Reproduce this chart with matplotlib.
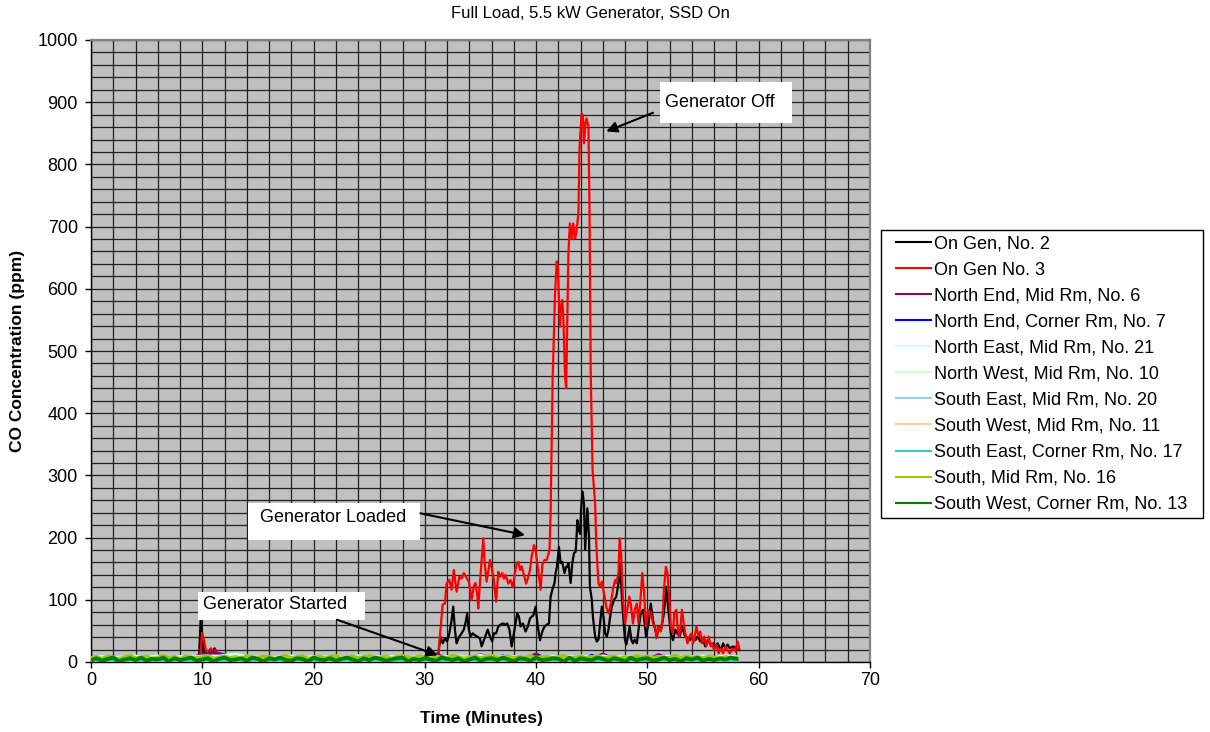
import numpy as np
import matplotlib
matplotlib.use('Agg')
import matplotlib.pyplot as plt
from matplotlib.ticker import MultipleLocator
from matplotlib.patches import Rectangle

plt.rcParams['font.family'] = ['Liberation Sans', 'DejaVu Sans']

title = "Full Load, 5.5 kW Generator, SSD On"
xlabel = "Time (Minutes)"
ylabel = "CO Concentration (ppm)"

series_names = ["On Gen, No. 2", "On Gen No. 3", "North End, Mid Rm, No. 6",
                "North End, Corner Rm, No. 7", "North East, Mid Rm, No. 21",
                "North West, Mid Rm, No. 10", "South East, Mid Rm, No. 20",
                "South West, Mid Rm, No. 11", "South East, Corner Rm, No. 17",
                "South, Mid Rm, No. 16", "South West, Corner Rm, No. 13"]
series_colors = ["#000000", "#FF0000", "#800080", "#0000FF", "#CCFFFF", "#CCFFCC",
                 "#99CCFF", "#FFCC99", "#33CCCC", "#99CC00", "#008000"]

# ---- On Gen, No. 2 (black)
t_gen2 = [0, 1.5, 3, 4.5, 6, 7.5, 9, 9.7, 9.85, 10.0,
          10.2, 10.5, 10.7, 10.9, 11.1, 11.3, 11.6, 13, 15, 17,
          19, 21, 23, 25, 27, 29, 30.5, 31.0, 31.2, 31.4,
          31.6, 31.8, 32.0, 32.2, 32.4, 32.55, 32.7, 32.85, 33.1, 33.3,
          33.5, 33.7, 33.8, 33.95, 34.1, 34.3, 34.5, 34.7, 34.95, 35.1,
          35.3, 35.45, 35.65, 35.85, 36.05, 36.2, 36.4, 36.6, 36.8, 37.0,
          37.25, 37.4, 37.6, 37.8, 38.0, 38.3, 38.45, 38.6, 38.8, 39.05,
          39.25, 39.45, 39.6, 39.75, 39.95, 40.15, 40.35, 40.55, 40.75, 40.95,
          41.15, 41.3, 41.45, 41.65, 41.75, 41.87, 42.05, 42.2, 42.35, 42.55,
          42.7, 42.8, 42.9, 43.1, 43.25, 43.4, 43.55, 43.63, 43.7, 43.85,
          43.95, 44.05, 44.17, 44.3, 44.4, 44.55, 44.6, 44.75, 44.83, 45.0,
          45.1, 45.3, 45.45, 45.6, 45.75, 45.9, 46.05, 46.2, 46.35, 46.5,
          46.65, 46.8, 47.0, 47.2, 47.4, 47.5, 47.65, 47.8, 47.98, 48.1,
          48.25, 48.4, 48.55, 48.7, 48.85, 49.05, 49.2, 49.4, 49.6, 49.75,
          49.87, 50.1, 50.3, 50.5, 50.7, 50.86, 51.0, 51.25, 51.48, 51.7,
          51.85, 52.1, 52.3, 52.5, 52.7, 52.9, 53.1, 53.35, 53.6, 53.8,
          54.0, 54.3, 54.5, 54.75, 55.0, 55.2, 55.4, 55.7, 55.9, 56.1,
          56.3, 56.6, 56.8, 57.0, 57.2, 57.4, 57.7, 58.0, 58.25]
gen2 = [2, 3, 1, 2, 3, 2, 3, 5, 67, 35,
        10, 8, 20, 12, 22, 10, 4, 2, 3, 2,
        3, 2, 2, 3, 2, 3, 3, 5, 11, 41,
        30, 38, 33, 46, 67, 89, 52, 30, 41, 46,
        52, 67, 78, 52, 41, 46, 43, 41, 38, 25,
        35, 43, 52, 41, 33, 46, 46, 57, 60, 62,
        60, 62, 52, 25, 46, 78, 73, 57, 62, 49,
        57, 70, 73, 75, 89, 57, 35, 49, 57, 60,
        62, 105, 116, 127, 143, 153, 185, 159, 161, 143,
        153, 153, 159, 127, 159, 175, 177, 201, 228, 212,
        206, 249, 274, 254, 180, 228, 247, 201, 121, 100,
        73, 41, 33, 36, 62, 89, 73, 46, 41, 52,
        73, 89, 100, 105, 127, 159, 121, 78, 36, 28,
        41, 57, 36, 30, 36, 30, 52, 78, 84, 62,
        41, 62, 94, 67, 52, 41, 57, 54, 78, 121,
        89, 46, 35, 52, 46, 41, 57, 43, 38, 35,
        41, 35, 41, 33, 35, 25, 35, 28, 30, 25,
        30, 19, 30, 22, 28, 22, 25, 22, 19]

# ---- On Gen No. 3 (red)
t_gen3 = [0, 1.5, 3, 4.5, 6, 7.5, 9, 9.8, 9.9, 10.0,
          10.2, 10.4, 10.6, 10.8, 11.0, 11.2, 11.4, 11.7, 13, 15,
          17, 19, 21, 23, 25, 27, 29, 30.5, 31.0, 31.2,
          31.6, 31.8, 31.95, 32.2, 32.4, 32.6, 32.85, 33.1, 33.3, 33.5,
          33.7, 33.96, 34.2, 34.4, 34.55, 34.7, 34.8, 34.97, 35.1, 35.25,
          35.4, 35.55, 35.85, 36.0, 36.2, 36.4, 36.6, 36.75, 36.95, 37.1,
          37.25, 37.5, 37.7, 37.9, 38.1, 38.25, 38.4, 38.55, 38.7, 38.9,
          39.1, 39.25, 39.45, 39.6, 39.8, 39.95, 40.15, 40.4, 40.55, 40.75,
          40.95, 41.2, 41.3, 41.48, 41.7, 41.85, 41.95, 42.14, 42.2, 42.35,
          42.45, 42.6, 42.7, 42.9, 43.03, 43.2, 43.33, 43.5, 43.6, 43.8,
          43.9, 44.09, 44.2, 44.3, 44.43, 44.53, 44.7, 44.8, 44.9, 45.07,
          45.3, 45.4, 45.6, 45.75, 45.9, 46.2, 46.3, 46.5, 46.7, 46.9,
          47.1, 47.2, 47.4, 47.5, 47.65, 47.8, 47.98, 48.2, 48.37, 48.5,
          48.7, 48.87, 49.05, 49.2, 49.35, 49.54, 49.7, 49.87, 50.1, 50.3,
          50.5, 50.7, 50.8, 51.0, 51.2, 51.35, 51.48, 51.66, 51.8, 51.95,
          52.1, 52.3, 52.4, 52.6, 52.7, 52.85, 53.0, 53.1, 53.3, 53.4,
          53.6, 53.77, 53.96, 54.1, 54.3, 54.4, 54.6, 54.75, 54.9, 55.1,
          55.3, 55.5, 55.7, 55.8, 56.0, 56.2, 56.4, 56.6, 56.8, 57.0,
          57.2, 57.4, 57.7, 57.9, 58.1, 58.25]
gen3 = [2, 3, 2, 2, 3, 2, 3, 5, 30, 47,
        30, 12, 15, 22, 12, 20, 8, 4, 3, 2,
        3, 2, 3, 2, 3, 2, 3, 3, 5, 11,
        92, 94, 126, 132, 116, 148, 113, 137, 134, 143,
        137, 129, 100, 122, 127, 109, 86, 132, 164, 199,
        154, 129, 164, 151, 132, 97, 145, 137, 143, 134,
        140, 126, 132, 120, 143, 159, 161, 148, 154, 140,
        126, 134, 148, 170, 188, 180, 151, 116, 156, 164,
        164, 180, 239, 453, 593, 644, 635, 539, 565, 582,
        550, 458, 440, 657, 705, 680, 705, 681, 689, 721,
        828, 882, 877, 834, 866, 874, 861, 721, 470, 309,
        255, 191, 126, 121, 129, 100, 89, 78, 94, 116,
        132, 127, 143, 199, 169, 100, 62, 85, 105, 94,
        62, 85, 94, 62, 94, 143, 111, 57, 84, 78,
        62, 57, 38, 57, 49, 67, 116, 153, 143, 105,
        57, 46, 78, 84, 57, 41, 62, 84, 57, 46,
        30, 41, 46, 30, 46, 57, 41, 49, 30, 41,
        25, 41, 25, 30, 19, 28, 14, 22, 14, 25,
        19, 14, 22, 17, 33, 22]

# ---- room sensors (background band near zero)
t_half = np.arange(0, 58.5, 0.5)   # sampling every half minute
t_one = np.arange(0, 59, 1)        # sampling every minute

rm13 = [3, 6, 2, 5, 7, 1, 4, 6, 3, 7,
        2, 5, 4, 7, 1, 6, 3, 5, 7, 2,
        4, 6, 1, 5, 7, 3, 4, 6, 2, 7,
        5, 1, 6, 4, 7, 3, 2, 6, 5, 1,
        7, 4, 3, 6, 2, 5, 7, 4, 1, 6,
        3, 7, 5, 2, 4, 6, 7, 1, 5, 3,
        6, 4, 2, 7, 5, 3, 6, 1, 4, 7,
        2, 5, 6, 3, 7, 4, 1, 6, 5, 2,
        7, 3, 4, 6, 5, 1, 7, 2, 6, 4,
        3, 7, 5, 2, 6, 4, 1, 7, 3, 5,
        6, 2, 4, 7, 3, 5, 1, 6, 4, 7,
        2, 5, 3, 6, 4, 7, 5]
rm16 = [6, 8, 5, 9, 7, 4, 8, 10, 6, 7,
        9, 5, 7, 10, 6, 8, 4, 9, 7, 6,
        8, 10, 5, 7, 9, 6, 8, 4, 10, 7,
        6, 9, 8, 5, 7, 10, 6, 8, 9, 5,
        7, 9, 6, 8, 10, 5, 7, 9, 6, 8,
        10, 6, 7, 9, 5, 8, 10, 7, 6, 9,
        8, 5, 9, 7, 6, 10, 8, 5, 7, 9,
        6, 8, 10, 7, 5, 9, 6, 8, 7, 10,
        5, 7, 9, 6, 8, 10, 5, 7, 9, 6,
        8, 10, 6, 7, 9, 5, 8, 6, 10, 7,
        9, 6, 8, 5, 7, 10, 6, 9, 7, 8,
        6, 9, 7, 5, 8, 6, 7]
rm6 = [4, 5, 3, 6, 4, 5, 3, 4, 6, 5,
       12, 15, 11, 6, 4, 5, 3, 6, 4, 5,
       7, 4, 5, 3, 6, 4, 5, 4, 6, 5,
       3, 12, 5, 4, 6, 11, 5, 4, 3, 6,
       12, 4, 5, 6, 3, 5, 12, 4, 6, 5,
       3, 11, 4, 5, 6, 4, 5, 3, 4]
rm7 = [2, 3, 1, 2, 4, 2, 3, 1, 2, 3,
       4, 8, 3, 2, 1, 3, 2, 4, 2, 1,
       3, 2, 4, 1, 2, 3, 2, 1, 9, 2,
       3, 1, 2, 4, 3, 2, 1, 9, 2, 3,
       2, 4, 1, 3, 2, 10, 3, 2, 4, 1,
       2, 3, 1, 2, 4, 2, 3, 1, 2]
rm21 = [6, 8, 5, 7, 9, 6, 7, 5, 8, 6,
        9, 7, 10, 12, 8, 6, 5, 7, 9, 6,
        8, 5, 7, 6, 9, 7, 5, 8, 6, 7,
        9, 6, 8, 5, 7, 10, 6, 8, 5, 7,
        6, 9, 7, 8, 5, 7, 9, 6, 8, 5,
        7, 6, 9, 5, 8, 7, 6, 9, 7]
rm10 = [5, 7, 6, 8, 5, 7, 9, 6, 5, 8,
        7, 9, 8, 10, 6, 7, 5, 8, 6, 7,
        6, 8, 5, 7, 9, 6, 8, 7, 5, 6,
        8, 7, 5, 9, 6, 8, 7, 5, 8, 6,
        7, 5, 8, 6, 9, 7, 5, 8, 6, 9,
        5, 8, 6, 7, 5, 9, 6, 7, 8]
rm20 = [3, 4, 2, 5, 3, 4, 6, 3, 4, 2,
        5, 6, 4, 7, 3, 4, 5, 3, 2, 4,
        3, 5, 4, 2, 6, 3, 4, 5, 3, 4,
        2, 4, 5, 3, 6, 4, 3, 5, 2, 4,
        5, 3, 4, 6, 3, 5, 4, 2, 5, 3,
        4, 6, 3, 5, 4, 3, 5, 4, 3]
rm11 = [4, 3, 5, 4, 2, 5, 3, 4, 6, 3,
        5, 4, 6, 5, 3, 4, 5, 2, 4, 5,
        3, 4, 2, 5, 3, 6, 4, 3, 5, 4,
        5, 3, 4, 6, 2, 4, 5, 3, 4, 6,
        3, 5, 4, 2, 5, 3, 4, 6, 3, 5,
        4, 2, 5, 3, 4, 5, 3, 4, 2]
rm17 = [1, 2, 0, 1, 2, 1, 0, 2, 1, 1,
        2, 1, 3, 1, 0, 2, 1, 2, 0, 1,
        1, 2, 1, 0, 2, 1, 3, 1, 2, 0,
        1, 2, 0, 1, 3, 1, 2, 0, 1, 2,
        0, 1, 2, 1, 0, 2, 1, 3, 1, 2,
        1, 0, 2, 1, 2, 0, 1, 3, 2]

xticks = list(range(0, 71, 10))
yticks = list(range(0, 1001, 100))

# annotations: (text, box x0, box x1, box y0, box y1, text x, text y, arrow tail, arrow head)
notes = [
    ("Generator Off", 51.1, 62.95, 866, 932, 51.6, 899, (50.5, 883), (46.3, 853)),
    ("Generator Loaded", 14.1, 29.55, 196, 255, 15.2, 232, (29.6, 239), (39.0, 204)),
    ("Generator Started", 9.65, 24.6, 68, 113, 10.05, 92, (22.1, 68), (31.15, 11)),
]

W, H = 1210, 732
fig = plt.figure(figsize=(W / 100, H / 100), dpi=100)
ax = fig.add_axes([91 / W, 70 / H, 779 / W, 622 / H])
ax.set_facecolor('#C0C0C0')
ax.set_xlim(0, 70)
ax.set_ylim(0, 1000)
ax.set_xticks(xticks)
ax.set_yticks(yticks)
ax.xaxis.set_minor_locator(MultipleLocator(2))
ax.yaxis.set_minor_locator(MultipleLocator(20))
ax.grid(which='both', color='#202020', lw=0.9)
ax.set_axisbelow(True)
ax.tick_params(which='minor', length=0)
ax.tick_params(which='major', direction='out', length=4.5, width=1, labelsize=13,
               top=False, right=False)
ax.tick_params(axis='y', pad=5)
ax.tick_params(axis='x', pad=3)
for s in ['top', 'right']:
    ax.spines[s].set_color('#808080')
    ax.spines[s].set_linewidth(1.6)
for s in ['left', 'bottom']:
    ax.spines[s].set_color('black')
    ax.spines[s].set_linewidth(1.0)

all_t = [t_gen2, t_gen3, t_one, t_one, t_one, t_one, t_one, t_one, t_one, t_half, t_half]
all_v = [gen2, gen3, rm6, rm7, rm21, rm10, rm20, rm11, rm17, rm16, rm13]
handles = []
for i, (tt, vv) in enumerate(zip(all_t, all_v)):
    lw = 1.6 if i < 2 else 2.8
    ln, = ax.plot(tt, vv, color=series_colors[i], lw=lw, label=series_names[i], zorder=3 + i * 0.01)
    handles.append(ln)

for txt, x0, x1, y0, y1, tx, ty, tail, head in notes:
    ax.add_patch(Rectangle((x0, y0), x1 - x0, y1 - y0, facecolor='white', edgecolor='none', zorder=5))
    ax.text(tx, ty, txt, fontsize=13, ha='left', va='center', zorder=6)
    ax.annotate('', xy=head, xytext=tail,
                arrowprops=dict(arrowstyle='-|>', color='black', lw=1.5, mutation_scale=16,
                                shrinkA=0, shrinkB=0), zorder=6)

# legend frame drawn separately, entries placed inside it
fig.patches.append(Rectangle((881 / W, 1 - 518 / H), 322 / W, 288 / H, transform=fig.transFigure,
                             facecolor='white', edgecolor='black', lw=1.0, zorder=1))
leg = fig.legend(handles=handles, loc='upper left', bbox_to_anchor=(892 / W, 1 - 232 / H),
                 frameon=False, fontsize=13,
                 handlelength=1.95, handletextpad=0.2, labelspacing=0.5, borderpad=0.2,
                 borderaxespad=0)
leg.set_zorder(2)
for h in leg.legend_handles:
    h.set_linewidth(1.5)

fig.text(590 / W, 1 - 14 / H, title, ha='center', va='center', fontsize=12)
fig.text(481 / W, 1 - 718 / H, xlabel, ha='center', va='center', fontsize=12.5, fontweight='bold')
fig.text(18 / W, 1 - 351 / H, ylabel, ha='center', va='center', rotation=90,
         fontsize=12.5, fontweight='bold')

fig.savefig('out.png', dpi=100, facecolor='white')
